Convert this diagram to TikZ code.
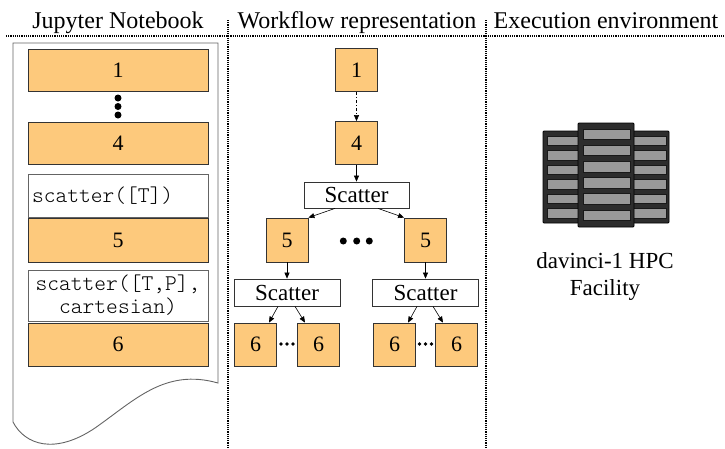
\documentclass[tikz,border=0pt]{standalone}
\usepackage{fontspec}
\setmainfont{Liberation Serif}
\setmonofont{Latin Modern Mono Light}
\usetikzlibrary{arrows.meta}
\definecolor{cellorange}{RGB}{253,201,124}
\definecolor{rackdark}{RGB}{45,45,45}
\definecolor{slotgrey}{RGB}{153,153,153}
\definecolor{pagegrey}{RGB}{100,100,100}
\begin{document}
\begin{tikzpicture}[x=1pt,y=-1pt,
  hdr/.style={font=\fontsize{24}{28}\selectfont, anchor=base, inner sep=0pt},
  nbcell/.style={draw=black!80, fill=cellorange, minimum width=180pt, minimum height=42pt, inner sep=0pt, font=\fontsize{22}{26}\selectfont, line width=0.8pt},
  codebox/.style={draw=pagegrey, fill=white, minimum width=180pt, inner sep=0pt, font=\ttfamily\fontsize{22.4}{23}\selectfont, line width=0.8pt},
  task/.style={draw=black!80, fill=cellorange, minimum width=42pt, minimum height=43pt, inner sep=0pt, font=\fontsize{22}{26}\selectfont, line width=0.8pt},
  scat/.style={draw=black!80, fill=white, minimum height=26pt, minimum width=105pt, inner sep=0pt, font=\fontsize{23}{27}\selectfont, line width=0.8pt},
  arr/.style={-{Triangle[length=6pt,width=5pt]}, line width=0.6pt},
  sepline/.style={densely dotted, line width=1.2pt},
  bigdot/.style={circle, fill=black, inner sep=0pt, minimum size=7pt},
  smalldot/.style={circle, fill=black, inner sep=0pt, minimum size=3.6pt},
]
\useasboundingbox (0,0) rectangle (725,448);

% headers and separators
\node[hdr] (h1) at (118,28) {Jupyter Notebook};
\node[hdr] (h2) at (357,28) {Workflow representation};
\node[hdr] (h3) at (606,28) {Execution environment};
\draw[sepline] (6,36) -- (725,36);
\draw[sepline] (228,20) -- (228,448);
\draw[sepline] (486,20) -- (486,448);

% notebook page
\draw[pagegrey, line width=0.9pt] (13,43) -- (13,422)
  .. controls (25,445) and (55,455) .. (95,428)
  .. controls (135,400) and (165,368) .. (218,383) -- (218,43) -- cycle;

\node[nbcell] (c1) at (118,70) {1};
\node[bigdot] (v1) at (118,98) {};
\node[bigdot] (v2) at (118,106.5) {};
\node[bigdot] (v3) at (118,115) {};
\node[nbcell] (c4) at (118,143) {4};
\node[codebox, minimum height=43pt, text width=172pt, align=left] (s1) at (118,195.5) {scatter([T])};
\node[nbcell, minimum height=44pt] (c5) at (118,240) {5};
\node[codebox, minimum height=51pt, text width=172pt, align=center] (s2) at (118,295.5) {scatter([T,P],\\cartesian)};
\node[nbcell, minimum height=43pt] (c6) at (118,344.5) {6};

% workflow
\node[task] (w1) at (356.5,70) {1};
\node[task] (w4) at (356.5,143) {4};
\node[scat] (sc) at (356.5,195) {Scatter};
\node[task, minimum height=44pt] (w5a) at (287,240) {5};
\node[task, minimum height=44pt] (w5b) at (425.5,240) {5};
\node[bigdot] (m1) at (343.3,241) {};
\node[bigdot] (m2) at (356.7,241) {};
\node[bigdot] (m3) at (369.3,241) {};
\node[scat, minimum width=106pt, minimum height=27pt] (sl) at (287,292.5) {Scatter};
\node[scat, minimum width=106pt, minimum height=27pt] (sr) at (425.5,292.5) {Scatter};
\node[task] (l1) at (255.5,344.5) {6};
\node[task] (l2) at (318.5,344.5) {6};
\node[task] (r1) at (394.5,344.5) {6};
\node[task] (r2) at (456.5,344.5) {6};
\node[smalldot] (ld1) at (281,344) {};
\node[smalldot] (ld2) at (287,344) {};
\node[smalldot] (ld3) at (293,344) {};
\node[smalldot] (rd1) at (419.5,344) {};
\node[smalldot] (rd2) at (425.5,344) {};
\node[smalldot] (rd3) at (431.5,344) {};

\draw[arr, dash pattern=on 3pt off 2pt on 1pt off 2pt] (w1) -- (w4);
\draw[arr] (w4) -- (sc);
\draw[arr] ([xshift=-21.5pt]sc.south) -- (w5a.north east);
\draw[arr] ([xshift=21.5pt]sc.south) -- (w5b.north west);
\draw[arr] (w5a) -- (sl);
\draw[arr] (w5b) -- (sr);
\draw[arr] ([xshift=-9pt]sl.south) -- ([xshift=13.5pt]l1.north);
\draw[arr] ([xshift=8pt]sl.south) -- ([xshift=-13.5pt]l2.north);
\draw[arr] ([xshift=-8.5pt]sr.south) -- ([xshift=13.5pt]r1.north);
\draw[arr] ([xshift=7.5pt]sr.south) -- ([xshift=-13.5pt]r2.north);

% server icon
\filldraw[fill=rackdark, draw=black, line width=0.8pt, rounded corners=1pt] (543,131) rectangle (669,223);
\foreach \yy in {136,150.5,165,179.5,194,208.5} {
  \draw[fill=slotgrey, draw=black!90, line width=0.7pt] (547,\yy) rectangle (666,\yy+9.5);
}
\filldraw[fill=rackdark, draw=black, line width=0.8pt, rounded corners=1pt] (578,123) rectangle (634,227);
\foreach \yy in {129,145.2,161.4,177.6,193.8,210} {
  \draw[fill=slotgrey, draw=black!90, line width=0.7pt] (583,\yy) rectangle (630,\yy+10.5);
}
\node[font=\fontsize{23}{27}\selectfont, align=center] (hpc) at (605,276.5) {davinci-1 HPC\\Facility};
\end{tikzpicture}
\end{document}
